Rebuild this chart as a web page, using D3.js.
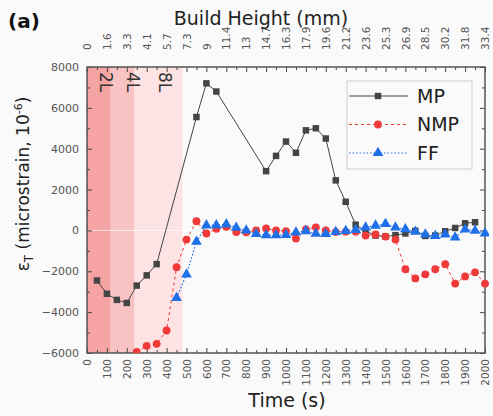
<!DOCTYPE html>
<html>
<head>
<meta charset="utf-8">
<script src="https://cdn.jsdelivr.net/npm/d3@7"></script>
<style>
  body { margin: 0; background: #fafafa; }
  svg { display: block; font-family: "DejaVu Sans", sans-serif; }
</style>
</head>
<body>
<div id="chart"></div>
<script>
(function() {
'use strict';

// data
var timeTicks = d3.range(0, 2001, 100),
	heightLabels = ['0', '1.6', '3.3', '4.1', '5.7', '7.3', '9', '11.4', '13', '14.7', '16.3',
		'17.9', '19.6', '21.2', '23.6', '25.3', '26.9', '28.5', '30.2', '31.8', '33.4'];

var mpTime = [50, 100, 150, 200, 250, 300, 350, 550, 600, 650, 900, 950, 1000, 1050, 1100, 1150,
	1200, 1250, 1300, 1350, 1400, 1450, 1500, 1550, 1600, 1650, 1700, 1750, 1800, 1850, 1900, 1950];
var mpStrain = [-2450, -3100, -3400, -3550, -2700, -2200, -1650, 5550, 7200, 6800, 2900, 3650, 4350, 3800, 4900, 5000,
	4500, 2450, 1400, 280, -30, -250, -300, -230, -150, -20, -270, -250, -40, 120, 350, 400];

var nmpTime = [250, 300, 350, 400, 450, 500, 550, 600, 650, 700, 750, 800, 850, 900, 950, 1000, 1050, 1100,
	1150, 1200, 1250, 1300, 1350, 1400, 1450, 1500, 1550, 1600, 1650, 1700, 1750, 1800, 1850, 1900, 1950, 2000];
var nmpStrain = [-5950, -5650, -5550, -4900, -1800, -450, 450, -150, 80, 180, -80, -90, 0, 100, 0, -40, -400, 50,
	150, 0, -80, -60, -60, -250, -200, -300, -450, -1900, -2350, -2150, -1900, -1650, -2600, -2250, -2050, -2600];

var ffTime = [450, 500, 550, 600, 650, 700, 750, 800, 850, 900, 950, 1000, 1050, 1100, 1150, 1200, 1250,
	1300, 1350, 1400, 1450, 1500, 1550, 1600, 1650, 1700, 1750, 1800, 1850, 1900, 1950, 2000];
var ffStrain = [-3300, -2150, -550, 250, 250, 300, 130, 0, -170, -230, -230, -220, -100, -30, -160, -170, -70,
	-20, 30, 150, 240, 320, 150, 60, -60, -200, -270, -200, -340, 50, -10, -140];

var layerNames = ['8L', '4L', '2L'],
	layerEnd = [480, 237, 117];

var width = 493, height = 416;

var svg = d3.select('#chart').append('svg')
	.attr('width', width)
	.attr('height', height);

var x = d3.scaleLinear().domain([0, 2000]).range([87, 485]),
	y = d3.scaleLinear().domain([-6000, 8000]).range([353, 67]);

var bandColors = {'8L': '#fde3e3', '4L': '#f9c3c3', '2L': '#f5a3a3'};

// layer bands
svg.selectAll('rect.band')
	.data(layerNames)
	.enter().append('rect')
	.attr('class', 'band')
	.attr('x', x(0))
	.attr('y', y(8000))
	.attr('width', function(d, i) { return x(layerEnd[i]) - x(0); })
	.attr('height', y(-6000) - y(8000))
	.attr('fill', function(d) { return bandColors[d]; });

// faint zero line
svg.append('line')
	.attr('x1', x(0)).attr('x2', x(2000))
	.attr('y1', y(0)).attr('y2', y(0))
	.attr('stroke', '#ffffff').attr('stroke-opacity', 0.7);

// band labels
var labelX = [156, 124, 97];
svg.selectAll('text.band-label')
	.data(layerNames)
	.enter().append('text')
	.attr('class', 'band-label')
	.attr('transform', function(d, i) { return 'translate(' + labelX[i] + ',' + 72 + ') rotate(90)'; })
	.attr('font-size', 17)
	.attr('fill', '#333')
	.attr('dy', '-0.2em')
	.text(function(d) { return d; });

// axes
function styleAxis(g) {
	g.select('.domain').remove();
	g.selectAll('.tick line').attr('stroke', '#444');
	g.selectAll('.tick text').attr('fill', '#555').attr('font-family', '"DejaVu Sans", sans-serif');
}

var minorX = d3.range(50, 2000, 100),
	minorY = d3.range(-5000, 8000, 2000);

// bottom
var bottomAxis = svg.append('g')
	.attr('transform', 'translate(0,' + y(-6000) + ')')
	.call(d3.axisBottom(x).tickValues(timeTicks).tickSize(-5).tickFormat(d3.format('d')));
styleAxis(bottomAxis);
bottomAxis.selectAll('.tick text')
	.attr('font-size', 10.5)
	.attr('transform', 'rotate(-90)')
	.attr('text-anchor', 'end')
	.attr('x', -6).attr('y', 0).attr('dy', '0.35em');
svg.append('g')
	.attr('transform', 'translate(0,' + y(-6000) + ')')
	.call(d3.axisBottom(x).tickValues(minorX).tickSize(-3).tickFormat(''))
	.call(styleAxis);

// top
var topAxis = svg.append('g')
	.attr('transform', 'translate(0,' + y(8000) + ')')
	.call(d3.axisTop(x).tickValues(timeTicks).tickSize(-5)
		.tickFormat(function(d, i) { return heightLabels[i]; }));
styleAxis(topAxis);
topAxis.selectAll('.tick text')
	.attr('font-size', 10.5)
	.attr('transform', 'rotate(-90)')
	.attr('text-anchor', 'start')
	.attr('x', 17).attr('y', 0).attr('dy', '0.35em');
svg.append('g')
	.attr('transform', 'translate(0,' + y(8000) + ')')
	.call(d3.axisTop(x).tickValues(minorX).tickSize(-3).tickFormat(''))
	.call(styleAxis);

// left
var leftAxis = svg.append('g')
	.attr('transform', 'translate(' + x(0) + ',0)')
	.call(d3.axisLeft(y).tickValues(d3.range(-6000, 8001, 2000)).tickSize(-5).tickPadding(8).tickFormat(d3.format('d')));
styleAxis(leftAxis);
leftAxis.selectAll('.tick text').attr('font-size', 11);
svg.append('g')
	.attr('transform', 'translate(' + x(0) + ',0)')
	.call(d3.axisLeft(y).tickValues(minorY).tickSize(-3).tickFormat(''))
	.call(styleAxis);

// right
svg.append('g')
	.attr('transform', 'translate(' + x(2000) + ',0)')
	.call(d3.axisRight(y).tickValues(d3.range(-6000, 8001, 2000)).tickSize(-5).tickFormat(''))
	.call(styleAxis);
svg.append('g')
	.attr('transform', 'translate(' + x(2000) + ',0)')
	.call(d3.axisRight(y).tickValues(minorY).tickSize(-3).tickFormat(''))
	.call(styleAxis);

// frame
svg.append('rect')
	.attr('x', x(0)).attr('y', y(8000))
	.attr('width', x(2000) - x(0)).attr('height', y(-6000) - y(8000))
	.attr('fill', 'none').attr('stroke', '#555').attr('stroke-width', 1.5);

// series
var series = [
	{name: 'MP', t: mpTime, v: mpStrain, color: '#444444', dash: null, width: 1, symbol: d3.symbolSquare, size: 42},
	{name: 'NMP', t: nmpTime, v: nmpStrain, color: '#f03a3a', dash: '3,3', width: 1, symbol: d3.symbolCircle, size: 48},
	{name: 'FF', t: ffTime, v: ffStrain, color: '#1f6fe6', dash: '1.5,2', width: 1.2, symbol: d3.symbolTriangle, size: 50}
];

svg.append('clipPath').attr('id', 'plotclip')
	.append('rect')
	.attr('x', x(0)).attr('y', y(8000) - 4)
	.attr('width', x(2000) - x(0) + 4).attr('height', y(-6000) - y(8000) + 4);

var line = d3.line()
	.x(function(d) { return x(d[0]); })
	.y(function(d) { return y(d[1]); });

var plot = svg.append('g').attr('clip-path', 'url(#plotclip)');

series.forEach(function(s) {
	var pts = s.t.map(function(t, i) { return [t, s.v[i]]; });
	plot.append('path')
		.datum(pts)
		.attr('d', line)
		.attr('fill', 'none')
		.attr('stroke', s.color)
		.attr('stroke-width', s.width)
		.attr('stroke-dasharray', s.dash);
	plot.selectAll(null)
		.data(pts)
		.enter().append('path')
		.attr('d', d3.symbol().type(s.symbol).size(s.size))
		.attr('transform', function(d) { return 'translate(' + x(d[0]) + ',' + y(d[1]) + ')'; })
		.attr('fill', s.color);
});

// legend
var legend = svg.append('g');
legend.append('rect')
	.attr('x', 347).attr('y', 81)
	.attr('width', 125).attr('height', 88)
	.attr('fill', '#fafafa')
	.attr('stroke', '#cccccc');

series.forEach(function(s, i) {
	var ly = 96 + i * 28.5;
	legend.append('line')
		.attr('x1', 349).attr('x2', 408)
		.attr('y1', ly).attr('y2', ly)
		.attr('stroke', s.color)
		.attr('stroke-width', s.width)
		.attr('stroke-dasharray', s.dash);
	legend.append('path')
		.attr('d', d3.symbol().type(s.symbol).size(s.size))
		.attr('transform', 'translate(378,' + ly + ')')
		.attr('fill', s.color);
	legend.append('text')
		.attr('x', 417).attr('y', ly)
		.attr('dy', '0.36em')
		.attr('font-size', 19)
		.attr('fill', '#222')
		.text(s.name);
});

// titles
svg.append('text')
	.attr('x', 287).attr('y', 407)
	.attr('text-anchor', 'middle')
	.attr('font-size', 19)
	.attr('fill', '#222')
	.text('Time (s)');

svg.append('text')
	.attr('x', 261).attr('y', 25)
	.attr('text-anchor', 'middle')
	.attr('font-size', 19)
	.attr('fill', '#222')
	.text('Build Height (mm)');

svg.append('text')
	.attr('x', 8).attr('y', 28)
	.attr('font-size', 20)
	.attr('font-weight', 'bold')
	.attr('fill', '#111')
	.text('(a)');

var yTitle = svg.append('text')
	.attr('transform', 'translate(29,184) rotate(-90)')
	.attr('text-anchor', 'middle')
	.attr('font-size', 17)
	.attr('fill', '#222');
yTitle.append('tspan').text('\u03b5');
yTitle.append('tspan').attr('font-size', 12).attr('dy', 4).text('T');
yTitle.append('tspan').attr('dy', -4).text(' (microstrain, 10');
yTitle.append('tspan').attr('font-size', 11).attr('dy', -7).text('-6');
yTitle.append('tspan').attr('dy', 7).text(')');
})();
</script>
</body>
</html>
